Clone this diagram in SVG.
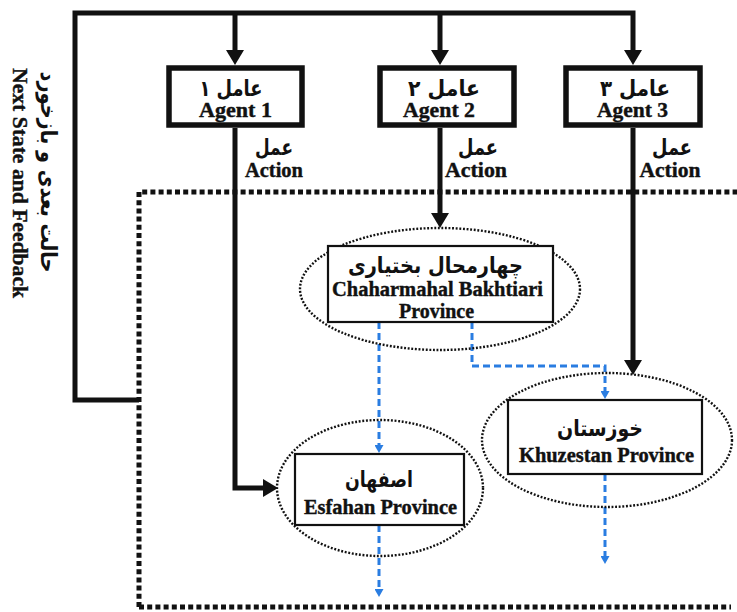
<svg xmlns="http://www.w3.org/2000/svg" width="737" height="612" viewBox="0 0 737 612">
  <style>
    .bg { fill: #ffffff; }
    .agent-box { fill: #ffffff; stroke: #111111; stroke-width: 5.5; }
    .prov-box { fill: #ffffff; stroke: #111111; stroke-width: 2.2; }
    .prov-ring { fill: none; stroke: #111111; stroke-width: 2.4; stroke-dasharray: 1.9 1.7; }
    .env { fill: none; stroke: #111111; stroke-width: 5; stroke-dasharray: 5 3.2; }
    .flow { fill: none; stroke: #111111; stroke-width: 5; stroke-linejoin: miter; }
    .trans { fill: none; stroke: #2a7de1; stroke-width: 3; stroke-dasharray: 7 4; }
    .en { font-family: "Liberation Serif", "Times New Roman", serif; font-weight: bold; font-size: 20px; fill: #111111; stroke: #111111; stroke-width: 0.4; text-anchor: middle; }
    .fa { font-family: "DejaVu Sans", "Noto Sans", sans-serif; font-weight: bold; font-size: 22px; fill: #111111; text-anchor: middle; }
  </style>
  <defs>
    <marker id="headBlack" viewBox="0 0 15 18" refX="3" refY="9" markerWidth="15" markerHeight="18" markerUnits="userSpaceOnUse" orient="auto">
      <path d="M0,0 L15,9 L0,18 Z" fill="#111111"/>
    </marker>
    <marker id="headBlue" viewBox="0 0 8 9" refX="2" refY="4.5" markerWidth="8" markerHeight="9" markerUnits="userSpaceOnUse" orient="auto">
      <path d="M0,0 L8,4.5 L0,9 Z" fill="#2a7de1"/>
    </marker>
  </defs>

  <rect class="bg" x="0" y="0" width="737" height="612"/>

  <!-- environment boundary -->
  <g id="environment">
    <path class="env" d="M139,607 V192 H737"/>
    <path class="env" d="M139,607 H731"/>
  </g>

  <!-- connectors -->
  <g id="connectors">
    <!-- next state and feedback loop -->
    <path class="flow" d="M139,400 H75 V13 H633 V53" marker-end="url(#headBlack)"/>
    <path class="flow" d="M235,13 V53" marker-end="url(#headBlack)"/>
    <path class="flow" d="M440,13 V53" marker-end="url(#headBlack)"/>
    <!-- actions -->
    <path class="flow" d="M235,128 V488 H266" marker-end="url(#headBlack)"/>
    <path class="flow" d="M440,128 V216" marker-end="url(#headBlack)"/>
    <path class="flow" d="M633,128 V363" marker-end="url(#headBlack)"/>
    <!-- transitions between provinces -->
    <path class="trans" d="M379,322 V447" marker-end="url(#headBlue)"/>
    <path class="trans" d="M472,322 V366 H605 V393" marker-end="url(#headBlue)"/>
    <path class="trans" d="M379,525 V591" marker-end="url(#headBlue)"/>
    <path class="trans" d="M605,474 V558" marker-end="url(#headBlue)"/>
  </g>

  <!-- edge labels -->
  <g id="labels">
    <text class="fa" x="274" y="155" textLength="38" lengthAdjust="spacingAndGlyphs">عمل</text>
    <text class="en" x="274" y="177" textLength="58" lengthAdjust="spacingAndGlyphs">Action</text>
    <text class="fa" x="478" y="155" textLength="40" lengthAdjust="spacingAndGlyphs">عمل</text>
    <text class="en" x="476" y="177" textLength="62" lengthAdjust="spacingAndGlyphs">Action</text>
    <text class="fa" x="672" y="155" textLength="40" lengthAdjust="spacingAndGlyphs">عمل</text>
    <text class="en" x="670" y="177" textLength="61" lengthAdjust="spacingAndGlyphs">Action</text>
    <text class="fa" transform="translate(41,172) rotate(90)" textLength="201" lengthAdjust="spacingAndGlyphs">حالت بعدی و بازخورد</text>
    <text class="en" transform="translate(13,183) rotate(90)" textLength="230" lengthAdjust="spacingAndGlyphs">Next State and Feedback</text>
  </g>

  <!-- agents -->
  <g id="agent1">
    <rect class="agent-box" x="169" y="68" width="133" height="57"/>
    <text class="fa" x="231" y="96" textLength="63" lengthAdjust="spacingAndGlyphs">عامل ۱</text>
    <text class="en" x="235.5" y="117" textLength="73" lengthAdjust="spacingAndGlyphs">Agent 1</text>
  </g>
  <g id="agent2">
    <rect class="agent-box" x="380" y="68" width="134" height="57"/>
    <text class="fa" x="444" y="96" textLength="72" lengthAdjust="spacingAndGlyphs">عامل ۲</text>
    <text class="en" x="439" y="117" textLength="72" lengthAdjust="spacingAndGlyphs">Agent 2</text>
  </g>
  <g id="agent3">
    <rect class="agent-box" x="566" y="68" width="134" height="57"/>
    <text class="fa" x="635" y="96" textLength="70" lengthAdjust="spacingAndGlyphs">عامل ۳</text>
    <text class="en" x="632.5" y="117" textLength="71" lengthAdjust="spacingAndGlyphs">Agent 3</text>
  </g>

  <!-- provinces -->
  <g id="chaharmahal">
    <ellipse class="prov-ring" cx="440" cy="289" rx="140" ry="61"/>
    <rect class="prov-box" x="328" y="246" width="225" height="76"/>
    <text class="fa" x="435.5" y="273" font-size="21" textLength="175" lengthAdjust="spacingAndGlyphs">چهارمحال بختیاری</text>
    <text class="en" x="437.5" y="296" textLength="211" lengthAdjust="spacingAndGlyphs">Chaharmahal Bakhtiari</text>
    <text class="en" x="436.5" y="318" textLength="75" lengthAdjust="spacingAndGlyphs">Province</text>
  </g>
  <g id="esfahan">
    <ellipse class="prov-ring" cx="380" cy="488" rx="103" ry="68"/>
    <rect class="prov-box" x="295" y="454" width="169" height="71"/>
    <text class="fa" x="379" y="487" textLength="68" lengthAdjust="spacingAndGlyphs">اصفهان</text>
    <text class="en" x="380.5" y="514" textLength="153" lengthAdjust="spacingAndGlyphs">Esfahan Province</text>
  </g>
  <g id="khuzestan">
    <ellipse class="prov-ring" cx="607" cy="440" rx="125" ry="67"/>
    <rect class="prov-box" x="508" y="400" width="194" height="74"/>
    <text class="fa" x="600" y="436" textLength="86" lengthAdjust="spacingAndGlyphs">خوزستان</text>
    <text class="en" x="606.5" y="462" textLength="175" lengthAdjust="spacingAndGlyphs">Khuzestan Province</text>
  </g>
</svg>
